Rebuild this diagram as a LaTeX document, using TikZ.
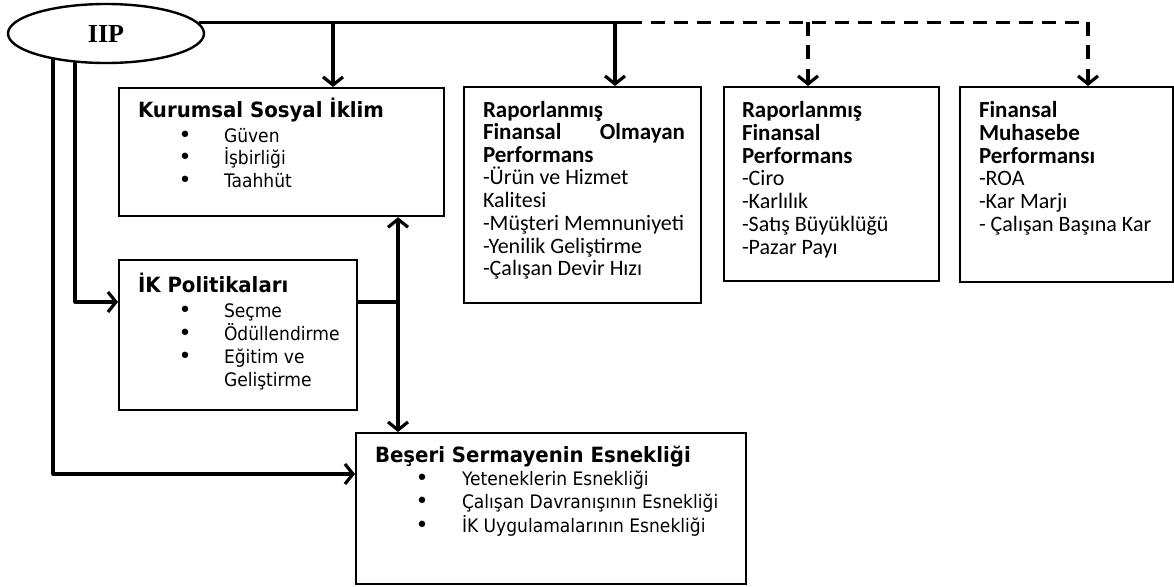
\documentclass[tikz,border=0pt]{standalone}
\usepackage{fontspec}
\setmainfont{DejaVu Sans}
\newfontfamily\tahT[FakeStretch=0.94]{DejaVu Sans}
\newfontfamily\tahI[FakeStretch=0.92]{DejaVu Sans}
\newfontfamily\calfont{Carlito}
\newfontfamily\serifb{Liberation Serif}
\usetikzlibrary{arrows.meta,shapes.geometric}
\begin{document}
\begin{tikzpicture}[x=1pt,y=-1pt,
  box/.style={draw, line width=2.2pt, rectangle, inner sep=0, anchor=north west},
  conn/.style={line width=3.2pt, line join=round},
  arr/.style={conn, -{Straight Barb[length=8pt,width=20pt]}},
  darr/.style={arr, dash pattern=on 14pt off 9pt},
  ln/.style={anchor=base west, inner sep=0, outer sep=0},
  lnr/.style={anchor=base east, inner sep=0, outer sep=0},
  bl/.style={anchor=base, inner sep=0, outer sep=0, font=\fontsize{22}{22}\selectfont},
  vt/.style={font=\tahT\fontsize{21}{22}\selectfont\bfseries},
  vi/.style={font=\tahI\fontsize{18.6}{22}\selectfont},
  ct/.style={font=\calfont\fontsize{23}{22}\selectfont\bfseries},
  ci/.style={font=\calfont\fontsize{22}{22}\selectfont},
]
\useasboundingbox (0,0) rectangle (1174,586);

% ellipse
\node[draw, ellipse, line width=2.4pt, minimum width=196pt, minimum height=59pt, inner sep=0]
  (iip) at (106,33.5) {\serifb\bfseries\fontsize{26}{26}\selectfont IIP};

% boxes
\node[box, minimum width=325pt, minimum height=128pt] (k) at (118,87) {};
\node[box, minimum width=237pt, minimum height=216pt] (b2) at (463,86) {};
\node[box, minimum width=215pt, minimum height=194pt] (b3) at (723,86) {};
\node[box, minimum width=213pt, minimum height=195pt] (b4) at (959,86) {};
\node[box, minimum width=238pt, minimum height=150pt] (ik) at (118,259) {};
\node[box, minimum width=390pt, minimum height=151pt] (bes) at (355,432) {};

% connectors
\coordinate (t0) at (199,22.5);
\coordinate (t1) at (333,22.5);
\coordinate (t2) at (615,22.5);
\coordinate (t3) at (628,22.5);
\coordinate (t4) at (808,22.5);
\coordinate (t5) at (1088,22.5);
\draw[conn] (t0) -- (t3);
\draw[conn, dash pattern=on 14pt off 9pt] (t3) -- (t5);
\draw[arr] (t1) -- (t1 |- k.north);
\draw[arr] (t2) -- (t2 |- b2.north);
\draw[darr] (t4) -- (t4 |- b3.north);
\draw[darr] (t5) -- (t5 |- b4.north);

\coordinate (l1) at (53,58);
\coordinate (l2) at (75,61);
\coordinate (j) at (398,302);
\coordinate (bot) at (53,474);
\draw[arr] (l2) |- (j -| ik.west);
\draw[arr] (l1) -- (bot) -- (bot -| bes.west);
\draw[conn] (j -| ik.east) -- (j);
\draw[arr] (j) -- (j |- k.south);
\draw[arr] (j) -- (j |- bes.north);

% Box 1 text
\node[ln,vt] (k0) at (138,117) {Kurumsal Sosyal İklim};
\node[bl] (kb1) at (185,142) {•};
\node[bl] (kb2) at (185,164.5) {•};
\node[bl] (kb3) at (185,187) {•};
\node[ln,vi] (k1) at (224,142) {Güven};
\node[ln,vi] (k2) at (224,164.5) {İşbirliği};
\node[ln,vi] (k3) at (224,187) {Taahhüt};

% IK text
\node[ln,vt] (i0) at (138,292) {İK Politikaları};
\node[bl] (ib1) at (185,317) {•};
\node[bl] (ib2) at (185,340) {•};
\node[bl] (ib3) at (185,363) {•};
\node[ln,vi] (i1) at (224,317) {Seçme};
\node[ln,vi] (i2) at (224,340) {Ödüllendirme};
\node[ln,vi] (i3) at (224,363) {Eğitim ve};
\node[ln,vi] (i4) at (224,386) {Geliştirme};

% Beseri text
\node[ln,vt] (e0) at (375,462) {Beşeri Sermayenin Esnekliği};
\node[bl] (eb1) at (422,485) {•};
\node[bl] (eb2) at (422,508) {•};
\node[bl] (eb3) at (422,532) {•};
\node[ln,vi] (e1) at (462,485) {Yeteneklerin Esnekliği};
\node[ln,vi] (e2) at (462,508) {Çalışan Davranışının Esnekliği};
\node[ln,vi] (e3) at (462,532) {İK Uygulamalarının Esnekliği};

% Box 2 text
\node[ln,ct] (r0) at (483,117) {Raporlanmış};
\node[ln,ct] (r1) at (483,139.5) {Finansal};
\node[lnr,ct] (r1b) at (685,139.5) {Olmayan};
\node[ln,ct] (r2) at (483,162) {Performans};
\node[ln,ci] (r3) at (483,184.5) {-Ürün ve Hizmet};
\node[ln,ci] (r4) at (483,207) {Kalitesi};
\node[ln,ci] (r5) at (483,230) {-Müşteri Memnuniyeti};
\node[ln,ci] (r6) at (483,253) {-Yenilik Geliştirme};
\node[ln,ci] (r7) at (483,275) {-Çalışan Devir Hızı};

% Box 3 text
\node[ln,ct] (f0) at (742,117) {Raporlanmış};
\node[ln,ct] (f1) at (742,140) {Finansal};
\node[ln,ct] (f2) at (742,163) {Performans};
\node[ln,ci] (f3) at (742,185) {-Ciro};
\node[ln,ci] (f4) at (742,208) {-Karlılık};
\node[ln,ci] (f5) at (742,231) {-Satış Büyüklüğü};
\node[ln,ci] (f6) at (742,254) {-Pazar Payı};

% Box 4 text
\node[ln,ct] (m0) at (979,117) {Finansal};
\node[ln,ct] (m1) at (979,140) {Muhasebe};
\node[ln,ct] (m2) at (979,163) {Performansı};
\node[ln,ci] (m3) at (979,185) {-ROA};
\node[ln,ci] (m4) at (979,208) {-Kar Marjı};
\node[ln,ci] (m5) at (979,231) {- Çalışan Başına Kar};
\end{tikzpicture}
\end{document}
